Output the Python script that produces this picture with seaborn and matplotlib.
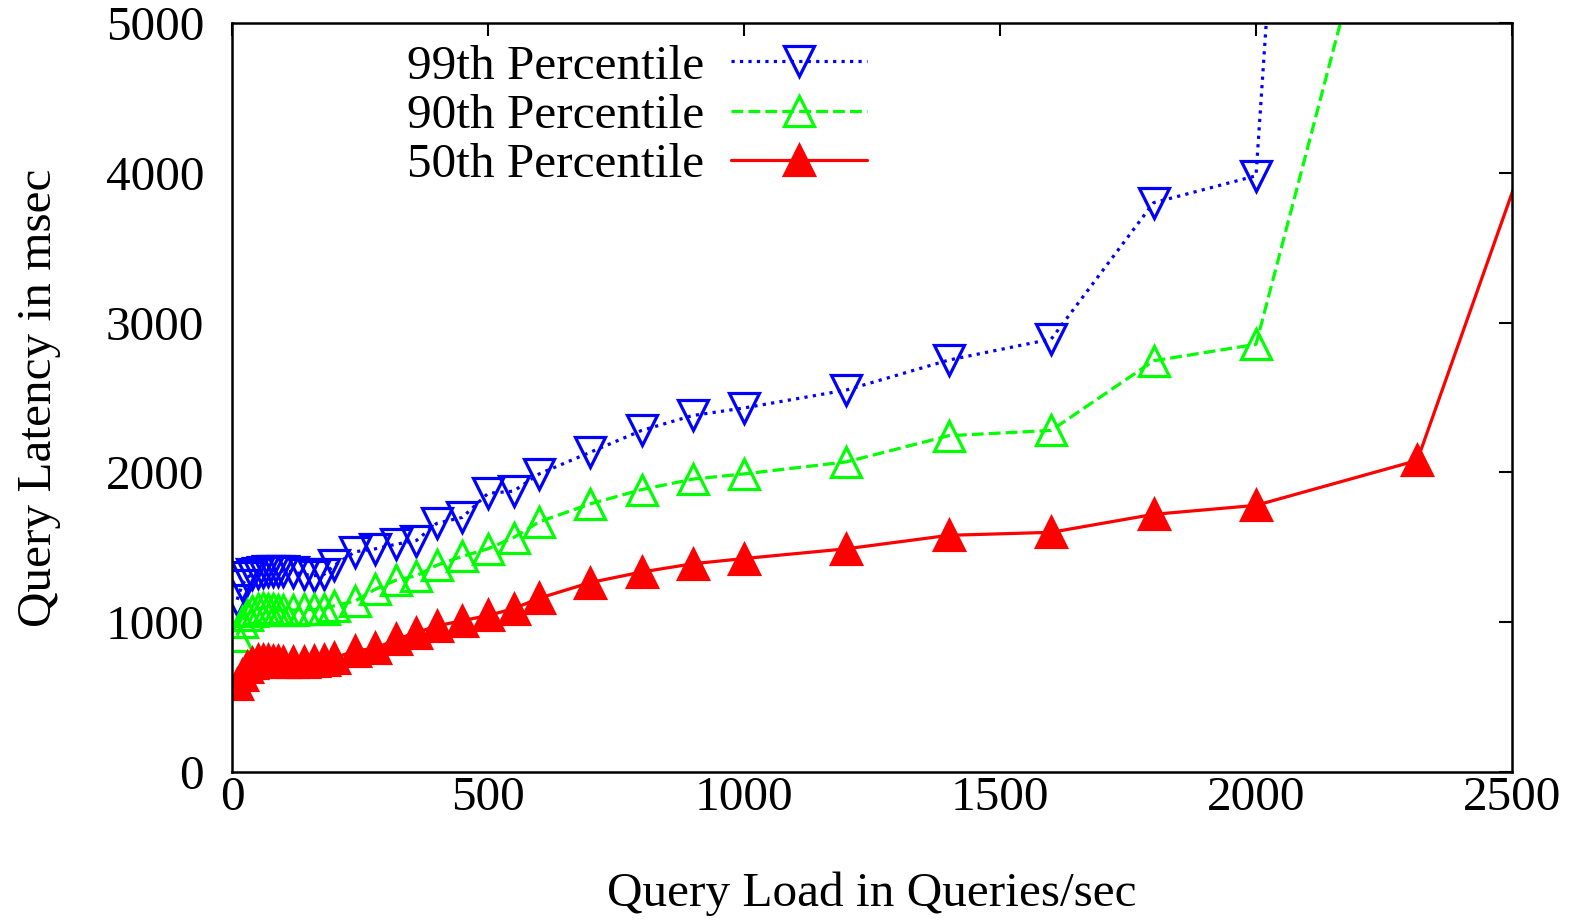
import matplotlib
matplotlib.use("Agg")
import matplotlib.pyplot as plt
import seaborn as sns
import pandas as pd

# ---------------- data ----------------
load_common = [10, 20, 30, 40, 50, 60, 70, 80, 90, 100, 120, 140, 160, 180, 200,
               240, 280, 320, 360, 400, 450, 500, 550, 600, 700, 800, 900, 1000,
               1200, 1400, 1600, 1800, 2000]

load_p99 = load_common + [2300]
lat_p99 = [1150, 1250, 1300, 1320, 1330, 1335, 1340, 1345, 1345, 1340, 1335, 1320, 1310, 1320, 1380,
           1470, 1490, 1520, 1545, 1660, 1700, 1860, 1875, 1990, 2135, 2280, 2380, 2430,
           2550, 2750, 2890, 3800, 3980, 19300]

load_p90 = load_common + [2300]
lat_p90 = [910, 1000, 1050, 1075, 1090, 1095, 1090, 1085, 1080, 1080, 1080, 1085, 1085, 1090, 1110,
           1140, 1220, 1280, 1310, 1380, 1440, 1490, 1565, 1670, 1790, 1885, 1955, 1990,
           2070, 2245, 2280, 2745, 2855, 6760]

load_p50 = load_common + [2315, 2600]
lat_p50 = [590, 650, 700, 730, 745, 750, 745, 740, 740, 735, 735, 735, 740, 745, 760,
           810, 825, 885, 930, 975, 1010, 1045, 1090, 1160, 1265, 1335, 1390, 1425,
           1490, 1580, 1600, 1720, 1780, 2080, 4830]

series_names = ["99th Percentile", "90th Percentile", "50th Percentile"]
x_ticks = [0, 500, 1000, 1500, 2000, 2500]
y_ticks = [0, 1000, 2000, 3000, 4000, 5000]

# ---------------- style ----------------
sns.set_theme(style="white")
plt.rcParams["font.family"] = ["Liberation Serif", "DejaVu Serif"]
plt.rcParams["axes.linewidth"] = 1.8
for key in ["text.color", "axes.labelcolor", "xtick.color", "ytick.color"]:
    plt.rcParams[key] = "black"

FS = 35.5

fig = plt.figure(figsize=(15.87, 9.23), dpi=100)
ax = fig.add_axes([232 / 1587, 1 - 772 / 923, (1512 - 232) / 1587, (772 - 23) / 923])

specs = [
    (load_p99, lat_p99, series_names[0], (0, 0, 1), ":", "v", "none"),
    (load_p90, lat_p90, series_names[1], (0, 1, 0), "--", "^", "none"),
    (load_p50, lat_p50, series_names[2], (1, 0, 0), "-", "^", (1, 0, 0)),
]

for xs, ys, name, col, ls, mk, fc in specs:
    df = pd.DataFrame({"load": xs, "lat": ys})
    sns.lineplot(data=df, x="load", y="lat", ax=ax, color=col, linestyle=ls,
                 linewidth=2.3, marker=mk, markersize=21, markerfacecolor=fc,
                 markeredgecolor=col, markeredgewidth=2.3, sort=False,
                 estimator=None, label=name)

ax.set_xlim(0, 2500)
ax.set_ylim(0, 5000)
ax.set_xticks(x_ticks)
ax.set_yticks(y_ticks)
ax.tick_params(axis="both", which="major", direction="in", length=9.5, width=1.5,
               top=True, right=True, labelsize=FS, color="black", labelcolor="black")
ax.tick_params(axis="x", pad=3)
ax.tick_params(axis="y", pad=20)
for s in ax.spines.values():
    s.set_color("black")
    s.set_linewidth(1.8)

ax.set_xlabel("Query Load in Queries/sec", fontsize=FS, labelpad=37, color="black")
ax.set_ylabel("Query Latency in msec", fontsize=FS, labelpad=32, color="black")

leg = ax.legend(loc="upper left", bbox_to_anchor=(407 / 1587, 1 - 44 / 923),
                bbox_transform=fig.transFigure, frameon=False, markerfirst=False,
                fontsize=FS, handlelength=2.75, handletextpad=0.55,
                labelspacing=0.1, borderaxespad=0, borderpad=0)
for t in leg.get_texts():
    t.set_color("black")

fig.savefig("out.png", dpi=100)
